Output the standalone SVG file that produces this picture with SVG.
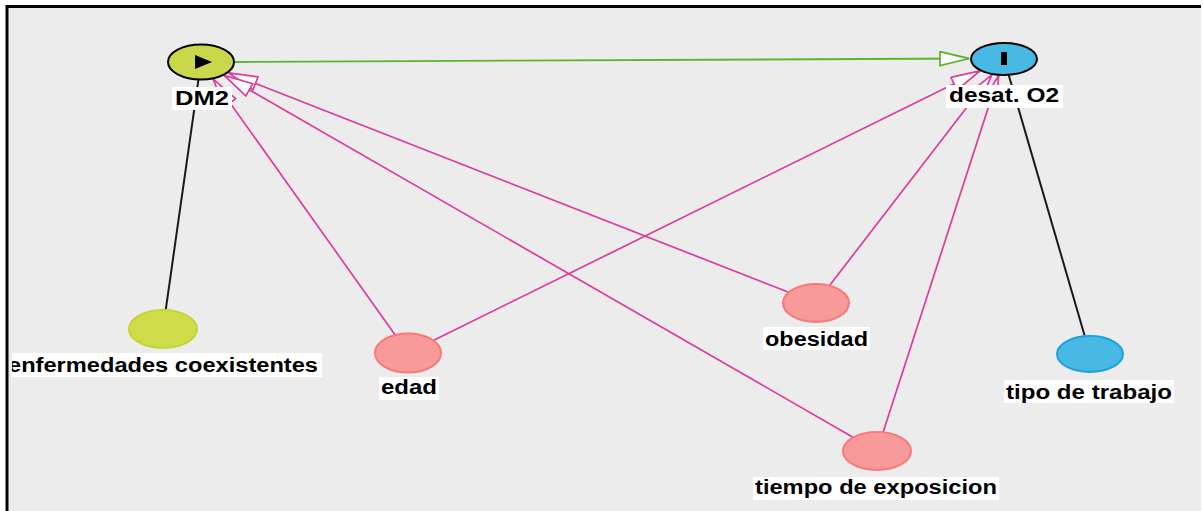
<svg xmlns="http://www.w3.org/2000/svg" width="1203" height="511" viewBox="0 0 1203 511">
<style>
  .bg { fill: #ececec; }
  .frame { stroke: #000; stroke-width: 3; fill: none; }
  .e-pink { stroke: #dd3c9c; stroke-width: 1.7; fill: none; marker-end: url(#arrPink); }
  .e-green { stroke: #5cb530; stroke-width: 1.8; fill: none; marker-end: url(#arrGreen); }
  .e-black { stroke: #1a1a1a; stroke-width: 2; fill: none; }
  .exp { fill: #c8d84a; stroke: #000; stroke-width: 2; }
  .out { fill: #48b9e5; stroke: #000; stroke-width: 2; }
  .anc-exp { fill: #cfdc4a; stroke: #c4d530; stroke-width: 2; }
  .anc-out { fill: #48b9e5; stroke: #1aa2e0; stroke-width: 2; }
  .conf { fill: #f89a9a; stroke: #f57a7a; stroke-width: 2; }
  .lblbox { fill: #ffffff; }
  .lbl { font-family: "Liberation Sans", Arial, sans-serif; font-size: 19.5px; font-weight: bold; fill: #000; }
</style>
<defs>
  <marker id="arrPink" viewBox="0 0 31 16" refX="30" refY="8" markerWidth="31" markerHeight="16" markerUnits="userSpaceOnUse" orient="auto">
    <path d="M1,1 L30,8 L1,15 Z" fill="#fff" stroke="#dd3c9c" stroke-width="1.7" stroke-linejoin="miter"/>
  </marker>
  <marker id="arrGreen" viewBox="0 0 31 16" refX="30" refY="8" markerWidth="31" markerHeight="16" markerUnits="userSpaceOnUse" orient="auto">
    <path d="M1,1 L30,8 L1,15 Z" fill="#fff" stroke="#5cb530" stroke-width="1.8"/>
  </marker>
  <clipPath id="leftClip"><rect x="12" y="0" width="1191" height="511"/></clipPath>
</defs>
<rect x="0" y="0" width="1203" height="511" fill="#fff"/>
<rect class="bg" x="8" y="8" width="1193" height="503"/>
<path class="frame" d="M7,511 L7,6.5 L1201,6.5"/>

<g id="connectors">
  <line class="e-black" x1="198.5" y1="79.4" x2="165.7" y2="310.1"/>
  <line class="e-black" x1="1008.6" y1="74.8" x2="1084.8" y2="336.2"/>
  <line class="e-green" x1="235" y1="62" x2="969" y2="58.5"/>
  <line class="e-pink" x1="395.2" y1="335" x2="213.2" y2="79.2"/>
  <line class="e-pink" x1="788.7" y1="292.3" x2="228.5" y2="72.8"/>
  <line class="e-pink" x1="853.3" y1="437.4" x2="224.2" y2="75.4"/>
  <line class="e-pink" x1="433.3" y1="340.5" x2="980" y2="70.9"/>
  <line class="e-pink" x1="829.4" y1="285.7" x2="991.9" y2="74.8"/>
  <line class="e-pink" x1="883.1" y1="432.3" x2="998.6" y2="75.7"/>
</g>

<g id="node-DM2">
  <ellipse class="exp" cx="201" cy="62" rx="33" ry="17.5"/>
  <polygon points="195,55 212,62 195,69" fill="#000"/>
  <rect class="lblbox" x="172" y="87" width="60" height="23"/>
  <text class="lbl" x="175" y="105" textLength="54" lengthAdjust="spacingAndGlyphs">DM2</text>
</g>
<g id="node-desat">
  <ellipse class="out" cx="1004" cy="59" rx="33" ry="16"/>
  <rect x="1001" y="52" width="6" height="13" fill="#000"/>
  <rect class="lblbox" x="946" y="85" width="117" height="23"/>
  <text class="lbl" x="949" y="102" textLength="110" lengthAdjust="spacingAndGlyphs">desat. O2</text>
</g>
<g id="node-enfermedades" clip-path="url(#leftClip)">
  <ellipse class="anc-exp" cx="163" cy="329" rx="34" ry="19"/>
  <rect class="lblbox" x="8" y="353" width="314" height="24"/>
  <text class="lbl" x="8" y="372" textLength="310" lengthAdjust="spacingAndGlyphs">enfermedades coexistentes</text>
</g>
<g id="node-edad">
  <ellipse class="conf" cx="408" cy="353" rx="33" ry="19.5"/>
  <rect class="lblbox" x="379" y="377" width="60" height="23"/>
  <text class="lbl" x="381" y="394" textLength="56" lengthAdjust="spacingAndGlyphs">edad</text>
</g>
<g id="node-obesidad">
  <ellipse class="conf" cx="816" cy="303" rx="33" ry="19"/>
  <rect class="lblbox" x="763" y="327" width="107" height="23"/>
  <text class="lbl" x="765" y="346" textLength="103" lengthAdjust="spacingAndGlyphs">obesidad</text>
</g>
<g id="node-tiempo">
  <ellipse class="conf" cx="877" cy="451" rx="34" ry="19"/>
  <rect class="lblbox" x="753" y="477" width="246" height="23"/>
  <text class="lbl" x="755" y="494" textLength="242" lengthAdjust="spacingAndGlyphs">tiempo de exposicion</text>
</g>
<g id="node-tipo">
  <ellipse class="anc-out" cx="1090" cy="354" rx="33" ry="18"/>
  <rect class="lblbox" x="1004" y="380" width="170" height="23"/>
  <text class="lbl" x="1006" y="399" textLength="166" lengthAdjust="spacingAndGlyphs">tipo de trabajo</text>
</g>
</svg>
